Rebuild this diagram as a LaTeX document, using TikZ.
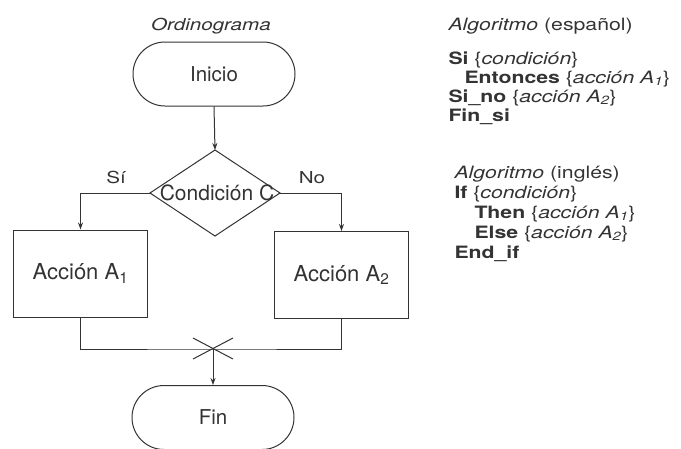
\documentclass[tikz,border=0pt]{standalone}
\usepackage{fontspec}
\setmainfont{TeX Gyre Heros}
\newfontfamily\widefont{TeX Gyre Heros}[FakeStretch=1.25]
\usetikzlibrary{arrows.meta,shapes.misc}
\definecolor{ink}{HTML}{333333}
\begin{document}
\begin{tikzpicture}[x=1pt,y=-1pt,color=ink,line width=1pt,
  flow/.style={-{Stealth[length=7pt,width=5pt]}},
  terminal/.style={rounded rectangle,draw,minimum width=162pt,minimum height=64pt,
    inner sep=0pt,font=\fontsize{20.5}{24}\selectfont},
  actionbox/.style={rectangle,draw,minimum width=134pt,minimum height=87pt,
    inner sep=0pt,font=\fontsize{22}{26}\selectfont},
  bigtext/.style={font=\fontsize{21}{24}\selectfont,inner sep=0pt},
  smalltext/.style={font=\widefont\fontsize{16.5}{20}\selectfont,inner sep=0pt},
  code/.style={font=\widefont\fontsize{17}{20}\selectfont,inner sep=0pt,anchor=base west}]
\useasboundingbox (0,0) rectangle (681,448);

% --- flowchart -------------------------------------------------------
\node[smalltext,anchor=base] (title) at (211,30) {\itshape Ordinograma};

\node[terminal] (inicio) at (214,74) {Inicio};

% decision diamond: corners and label
\coordinate (dtop)   at (215,150);
\coordinate (dright) at (280,193);
\coordinate (dbot)   at (215,236);
\coordinate (dleft)  at (150,193);
\draw (dtop) -- (dright) -- (dbot) -- (dleft) -- cycle;
\node[bigtext] (cond) at (217,193) {Condición C};

\node[smalltext,anchor=base] (si) at (116,183) {Sí};
\node[smalltext,anchor=base] (no) at (312,183) {No};

\node[actionbox] (a1) at (80.5,273.5) {Acción A\textsubscript{1}};
\node[actionbox] (a2) at (341.5,275) {Acción A\textsubscript{2}};

\node[terminal] (fin) at (213,417.5) {Fin};

% junction of both branches, with its cross mark
\coordinate (join) at (213,349);
\coordinate (xa) at (193,338);
\coordinate (xb) at (233,359);
\coordinate (xc) at (193,359);
\coordinate (xd) at (233,338);

\draw[flow] (inicio.south) -- (dtop);
\draw[flow] (dleft) -| (a1.north);
\draw[flow] (dright) -| (a2.north);
\draw (a1.south) |- (join) -| (a2.south);
\draw (xa) -- (xb);
\draw (xc) -- (xd);
\draw[flow] (join) -- (fin.north);

% --- algorithm text ----------------------------------------------------
\node[code] (es0) at (448,30)  {\textit{Algoritmo} (español)};
\node[code] (es1) at (448,64)  {\textbf{Si} \{\textit{condición}\}};
\node[code] (es2) at (464,83)  {\textbf{Entonces} \{\textit{acción A\textsubscript{1}}\}};
\node[code] (es3) at (448,102) {\textbf{Si\_no} \{\textit{acción A\textsubscript{2}}\}};
\node[code] (es4) at (448,121) {\textbf{Fin\_si}};

\node[code] (en0) at (454,178) {\textit{Algoritmo} (inglés)};
\node[code] (en1) at (454,198) {\textbf{If} \{\textit{condición}\}};
\node[code] (en2) at (474,218) {\textbf{Then} \{\textit{acción A\textsubscript{1}}\}};
\node[code] (en3) at (474,238) {\textbf{Else} \{\textit{acción A\textsubscript{2}}\}};
\node[code] (en4) at (454,258) {\textbf{End\_if}};
\end{tikzpicture}
\end{document}
